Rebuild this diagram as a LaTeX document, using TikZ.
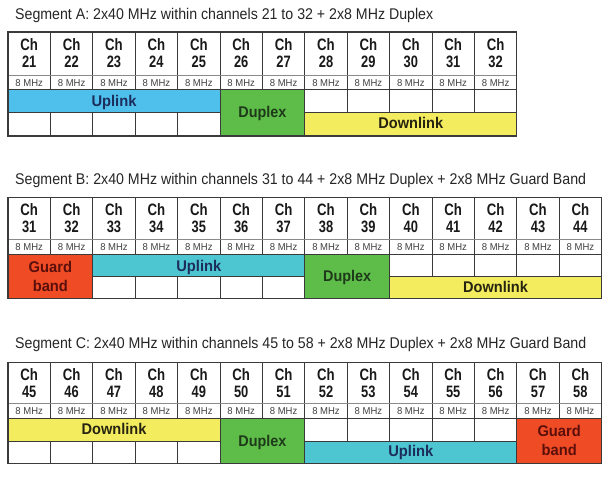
\documentclass[tikz,border=0pt]{standalone}
\usepackage{fontspec}
\setmainfont{Liberation Sans}
\usepackage{graphicx}
\definecolor{upA}{HTML}{4FC0EC}
\definecolor{upB}{HTML}{4EC6D2}
\definecolor{dupc}{HTML}{5DBD48}
\definecolor{downc}{HTML}{F2EC5E}
\definecolor{guardc}{HTML}{EF4C26}
\definecolor{gridc}{HTML}{3A3A3A}
\definecolor{lightgrid}{HTML}{8A8A8A}
\definecolor{uptext}{HTML}{1C2D5C}
\definecolor{duptext}{HTML}{1E3A1A}
\definecolor{downtext}{HTML}{262410}
\definecolor{guardtext}{HTML}{5B0F0A}
\begin{document}
\begin{tikzpicture}[x=1pt,y=-1pt,
  declare function={cx(\i)=8+42.4*\i;},
  titletext/.style={anchor=base west,inner sep=0,font=\fontsize{15.5}{15.5}\selectfont,text=black!85},
  chtext/.style={anchor=base,inner sep=0,font=\fontsize{16.5}{16.5}\selectfont\bfseries,text=black!90},
  mhz/.style={anchor=base,inner sep=0,font=\fontsize{10}{10}\selectfont,text=black!75},
  lab/.style={anchor=base,inner sep=0,font=\fontsize{15.5}{15.5}\selectfont\bfseries},
  gridl/.style={draw=gridc,line width=0.8pt},
  lightl/.style={draw=lightgrid,line width=0.6pt},
  outer/.style={draw=gridc,line width=1.1pt}]
\useasboundingbox[fill=white] (0,0) rectangle (603,480);

% ---------- titles ----------
\node[titletext] (titleA) at (15,19) {\resizebox{418pt}{\height}{Segment A: 2x40 MHz within channels 21 to 32 + 2x8 MHz Duplex}};
\node[titletext] (titleB) at (15,184) {\resizebox{571pt}{\height}{Segment B: 2x40 MHz within channels 31 to 44 + 2x8 MHz Duplex + 2x8 MHz Guard Band}};
\node[titletext] (titleC) at (15,348) {\resizebox{571pt}{\height}{Segment C: 2x40 MHz within channels 45 to 58 + 2x8 MHz Duplex + 2x8 MHz Guard Band}};

% ---------- header rows (channel numbers, 8 MHz) ----------
% #1 name, #2 top, #3 r1, #4 r2, #5 ncols, #6 first channel
\newcommand\mysegheader[6]{%
  \foreach \i in {1,...,#5} {
    \pgfmathsetmacro\xc{cx(\i-1)+21.2}
    \pgfmathtruncatemacro\chn{#6+\i-1}
    \node[chtext] (#1ch\i) at (\xc,#2+18) {\scalebox{0.8}[1]{Ch}};
    \node[chtext] (#1num\i) at (\xc,#2+35) {\scalebox{0.78}[1]{\chn}};
    \node[mhz] (#1mhz\i) at (\xc,#3+11) {\scalebox{0.95}[1]{8 MHz}};
  }
  \foreach \i in {1,...,\numexpr#5-1\relax} {
    \draw[gridl] ({cx(\i)},#2) -- ({cx(\i)},#4);
  }
  \draw[lightl] ({cx(0)},#3) -- ({cx(#5)},#3);
  \draw[gridl] ({cx(0)},#4) -- ({cx(#5)},#4);
}

% ================= Segment A =================
\fill[upA] ({cx(0)},89) rectangle ({cx(5)},112.5);
\fill[dupc] ({cx(5)},89) rectangle ({cx(7)},136);
\fill[downc] ({cx(7)},112.5) rectangle ({cx(12)},136);
\mysegheader{A}{32}{75}{89}{12}{21}
\foreach \i in {1,2,3,4} \draw[gridl] ({cx(\i)},112.5) -- ({cx(\i)},136);
\foreach \i in {8,9,10,11} \draw[gridl] ({cx(\i)},89) -- ({cx(\i)},112.5);
\foreach \i in {5,7} \draw[gridl] ({cx(\i)},89) -- ({cx(\i)},136);
\draw[gridl] ({cx(0)},112.5) -- ({cx(5)},112.5);
\draw[gridl] ({cx(7)},112.5) -- ({cx(12)},112.5);
\draw[outer] ({cx(0)},32) rectangle ({cx(12)},136);
\node[lab,text=uptext] (upLabA) at ({(cx(0)+cx(5))/2},106) {\scalebox{0.95}[1]{Uplink}};
\node[lab,text=duptext] (dupLabA) at ({(cx(5)+cx(7))/2},117.3) {\scalebox{0.93}[1]{Duplex}};
\node[lab,text=downtext] (downLabA) at ({(cx(7)+cx(12))/2},128.3) {\scalebox{0.94}[1]{Downlink}};

% ================= Segment B =================
\fill[guardc] ({cx(0)},254.5) rectangle ({cx(2)},298.5);
\fill[upB] ({cx(2)},254.5) rectangle ({cx(7)},276.5);
\fill[dupc] ({cx(7)},254.5) rectangle ({cx(9)},298.5);
\fill[downc] ({cx(9)},276.5) rectangle ({cx(14)},298.5);
\mysegheader{B}{197.5}{239.5}{254.5}{14}{31}
\foreach \i in {3,4,5,6} \draw[gridl] ({cx(\i)},276.5) -- ({cx(\i)},298.5);
\foreach \i in {10,11,12,13} \draw[gridl] ({cx(\i)},254.5) -- ({cx(\i)},276.5);
\foreach \i in {2,7,9} \draw[gridl] ({cx(\i)},254.5) -- ({cx(\i)},298.5);
\draw[gridl] ({cx(2)},276.5) -- ({cx(7)},276.5);
\draw[gridl] ({cx(9)},276.5) -- ({cx(14)},276.5);
\draw[outer] ({cx(0)},197.5) rectangle ({cx(14)},298.5);
\node[lab,text=guardtext] (guardLabB1) at ({(cx(0)+cx(2))/2},272.5) {\scalebox{0.95}[1]{Guard}};
\node[lab,text=guardtext] (guardLabB2) at ({(cx(0)+cx(2))/2},291.5) {\scalebox{0.95}[1]{band}};
\node[lab,text=uptext] (upLabB) at ({(cx(2)+cx(7))/2},271.7) {\scalebox{0.95}[1]{Uplink}};
\node[lab,text=duptext] (dupLabB) at ({(cx(7)+cx(9))/2},281.7) {\scalebox{0.93}[1]{Duplex}};
\node[lab,text=downtext] (downLabB) at ({(cx(9)+cx(14))/2},292) {\scalebox{0.94}[1]{Downlink}};

% ================= Segment C =================
\fill[downc] ({cx(0)},418) rectangle ({cx(5)},441);
\fill[dupc] ({cx(5)},418) rectangle ({cx(7)},463.5);
\fill[upB] ({cx(7)},441) rectangle ({cx(12)},463.5);
\fill[guardc] ({cx(12)},418) rectangle ({cx(14)},463.5);
\mysegheader{C}{362.5}{403}{418}{14}{45}
\foreach \i in {1,2,3,4} \draw[gridl] ({cx(\i)},441) -- ({cx(\i)},463.5);
\foreach \i in {8,9,10,11} \draw[gridl] ({cx(\i)},418) -- ({cx(\i)},441);
\foreach \i in {5,7,12} \draw[gridl] ({cx(\i)},418) -- ({cx(\i)},463.5);
\draw[gridl] ({cx(0)},441) -- ({cx(5)},441);
\draw[gridl] ({cx(7)},441) -- ({cx(12)},441);
\draw[outer] ({cx(0)},362.5) rectangle ({cx(14)},463.5);
\node[lab,text=downtext] (downLabC) at ({(cx(0)+cx(5))/2},434) {\scalebox{0.94}[1]{Downlink}};
\node[lab,text=duptext] (dupLabC) at ({(cx(5)+cx(7))/2},446.7) {\scalebox{0.93}[1]{Duplex}};
\node[lab,text=uptext] (upLabC) at ({(cx(7)+cx(12))/2},456.7) {\scalebox{0.95}[1]{Uplink}};
\node[lab,text=guardtext] (guardLabC1) at ({(cx(12)+cx(14))/2},436) {\scalebox{0.95}[1]{Guard}};
\node[lab,text=guardtext] (guardLabC2) at ({(cx(12)+cx(14))/2},455) {\scalebox{0.95}[1]{band}};
\end{tikzpicture}
\end{document}
